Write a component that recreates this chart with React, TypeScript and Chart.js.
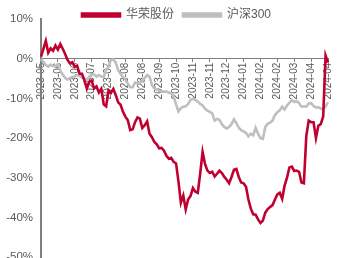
import React, { useEffect, useRef } from 'react';
import { Chart, registerables } from 'chart.js';

Chart.register(...registerables);

const tickLabels = [
  '2023-05', '2023-06', '2023-06', '2023-07', '2023-07', '2023-08', '2023-08', '2023-09', '2023-10',
  '2023-11', '2023-11', '2023-12', '2024-01', '2024-02', '2024-02', '2024-03', '2024-04', '2024-04',
];
const POINTS_PER_TICK = 7;

const huarong = [
  0.5, 2.5, 4.5, 1.5, 2.6, 2.0, 3.3, 2.3, 3.7, 2.5,
  1.2, -0.3, -1.2, -0.9, -2.0, -1.8, -3.8, -3.8, -5.5, -7.5,
  -5.8, -5.5, -7.5, -7.0, -8.5, -7.6, -11.5, -12.0, -8.0, -8.6,
  -7.6, -9.2, -11.0, -11.6, -13.4, -14.6, -15.5, -18.0, -17.8, -16.0,
  -14.8, -15.1, -17.5, -16.8, -15.8, -18.9, -19.8, -21.0, -21.6, -22.6,
  -22.5, -23.2, -24.5, -25.2, -25.0, -26.0, -26.4, -31.0, -36.3, -34.5,
  -38.0, -35.5, -34.6, -32.6, -33.5, -33.8, -29.0, -23.5, -26.5, -28.2,
  -28.8, -28.5, -29.7, -29.0, -28.2, -28.8, -29.8, -30.5, -31.4, -29.8,
  -28.0, -27.8, -29.8, -31.2, -31.4, -32.3, -35.5, -37.8, -39.2, -39.3,
  -40.5, -41.4, -40.8, -38.8, -37.9, -37.4, -36.9, -35.5, -34.2, -33.8,
  -35.3, -32.0, -30.0, -27.4, -27.2, -28.3, -28.2, -28.5, -31.2, -31.4,
  -19.5, -15.6, -16.0, -16.0, -20.0, -16.9, -16.5, -14.6, 0.8, -1.0,
];

const hs300 = [
  -0.1, -0.8, -1.6, -2.0, -1.5, -1.9, -1.8, -1.5, -3.0, -4.0,
  -4.8, -5.3, -4.9, -4.6, -4.4, -4.1, -4.4, -4.7, -5.0, -5.3,
  -4.6, -3.9, -4.0, -4.5, -4.1, -4.5, -4.6, -2.8, -2.0, -0.3,
  -0.2, -1.0, -2.9, -3.8, -4.7, -5.2, -6.3, -7.2, -7.2, -6.0,
  -6.2, -6.0, -5.6, -4.9, -4.1, -4.5, -6.6, -7.5, -7.8, -8.1,
  -8.3, -8.3, -8.3, -8.5, -8.8, -9.5, -11.5, -13.3, -12.5, -12.1,
  -12.0, -11.4, -10.4, -10.1, -10.4, -10.8, -11.4, -11.8, -12.6, -13.1,
  -13.4, -13.8, -15.6, -15.2, -15.4, -16.5, -17.2, -17.6, -17.2, -16.5,
  -15.3, -16.2, -17.4, -18.0, -18.3, -18.7, -19.6, -18.9, -19.3, -17.4,
  -18.9, -20.0, -20.2, -17.2, -16.4, -16.1, -15.6, -14.2, -13.5, -13.0,
  -12.1, -12.8, -11.8, -11.1, -10.4, -10.9, -10.7, -11.2, -12.1, -12.0,
  -12.1, -11.3, -11.2, -11.9, -12.3, -12.2, -12.6, -12.8, -12.0, -11.0,
];

const categories = huarong.map((_, i) => tickLabels[Math.min(tickLabels.length - 1, Math.floor(i / POINTS_PER_TICK))]);

const seriesNames = ['华荣股份', '沪深300'];

const legendShift = {
  id: 'legendShift',
  afterLayout(chart: any) {
    const lg = chart.legend;
    if (lg) {
      lg.left += 8;
      lg.right += 8;
    }
  },
};

export default function App() {
  const ref = useRef<HTMLCanvasElement | null>(null);

  useEffect(() => {
    if (!ref.current) return;
    const chart = new Chart(ref.current, {
      type: 'line',
      data: {
        labels: categories,
        datasets: [
          {
            label: seriesNames[0],
            data: huarong,
            borderColor: '#C00030',
            backgroundColor: '#C00030',
            borderWidth: 2.6,
            pointRadius: 0,
            tension: 0,
          },
          {
            label: seriesNames[1],
            data: hs300,
            borderColor: '#BFBFBF',
            backgroundColor: '#BFBFBF',
            borderWidth: 2.6,
            pointRadius: 0,
            tension: 0,
          },
        ],
      },
      plugins: [legendShift],
      options: {
        animation: false,
        responsive: true,
        maintainAspectRatio: false,
        layout: { padding: { left: 0, right: 4, top: 0, bottom: 0 } },
        plugins: {
          legend: {
            display: true,
            position: 'top',
            maxHeight: 19,
            labels: {
              boxWidth: 38,
              boxHeight: 3,
              padding: 9,
              color: '#595959',
              font: { size: 12, family: "'Liberation Sans', 'Noto Sans CJK SC', sans-serif" },
            },
          },
          tooltip: { enabled: false },
        },
        scales: {
          x: {
            type: 'category',
            position: { y: 0 },
            grid: {
              display: true,
              drawOnChartArea: false,
              drawTicks: true,
              tickLength: 3,
              color: '#7f7f7f',
            },
            border: { display: true, color: '#7f7f7f', width: 1 },
            ticks: {
              autoSkip: false,
              maxRotation: 90,
              minRotation: 90,
              padding: 1,
              color: '#595959',
              font: { size: 10, family: "'Liberation Sans', Arial, sans-serif" },
              callback: (_v: any, idx: number) => (idx % POINTS_PER_TICK === 0 ? categories[idx] : null),
            },
          },
          y: {
            min: -50,
            max: 10,
            afterFit: (scale: any) => {
              scale.width = 41;
            },
            grid: { display: false, drawTicks: false },
            border: { display: true, color: '#7f7f7f', width: 2 },
            ticks: {
              stepSize: 10,
              padding: 8,
              color: '#595959',
              font: { size: 11.5, family: "'Liberation Sans', Arial, sans-serif" },
              callback: (v: any) => `${v}%`,
            },
          },
        },
      },
    });
    return () => chart.destroy();
  }, []);

  return (
    <div style={{ position: 'absolute', left: 0, top: 0, width: 341, height: 272 }}>
      <canvas ref={ref} />
    </div>
  );
}
